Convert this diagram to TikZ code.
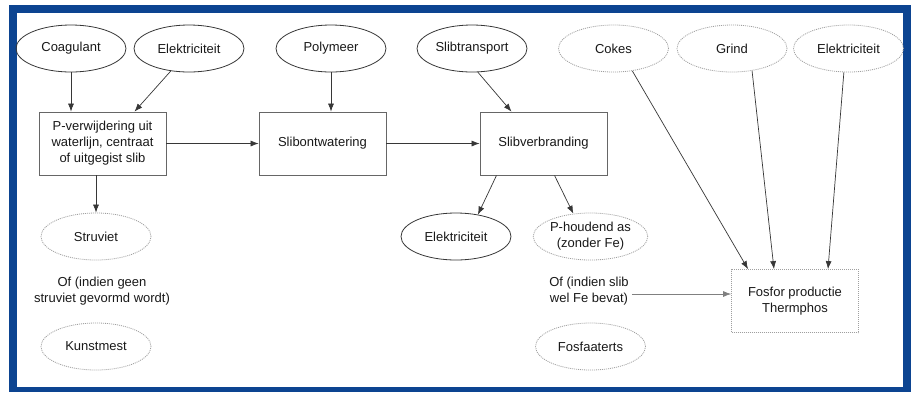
\documentclass[tikz,border=0pt]{standalone}
\usepackage{fontspec}
\setmainfont{Liberation Sans}
\usetikzlibrary{shapes.geometric,arrows.meta}
\definecolor{kaderblauw}{RGB}{12,68,145}
\definecolor{lijngrijs}{RGB}{55,55,55}

\begin{document}
\begin{tikzpicture}[x=1pt,y=-1pt,
  font=\fontsize{13}{16}\selectfont,text=black!90,
  bron/.style={ellipse,draw=lijngrijs,line width=0.8pt,minimum width=110pt,minimum height=47pt,inner sep=0pt,align=center},
  optie/.style={ellipse,draw=gray!75,dash pattern=on 1pt off 1pt,line width=0.8pt,minimum width=110pt,minimum height=47pt,inner sep=0pt,align=center},
  proces/.style={rectangle,draw=gray!80!black,line width=0.8pt,minimum width=127pt,minimum height=63pt,inner sep=0pt,align=center},
  pijl/.style={-{Latex[length=8pt,width=6pt]},draw=lijngrijs,line width=0.7pt},
  tekst/.style={align=center,inner sep=3pt}]
\useasboundingbox (0,0) rectangle (914,392);
% kader
\fill[kaderblauw] (9,5) rectangle (911,392);
\fill[white] (17,13) rectangle (903,387);

% bovenste rij
\node[bron] (coag) at (71,48.5) {Coagulant};
\node[bron] (elek1) at (189,48.5) {Elektriciteit};
\node[bron] (poly) at (331,48.5) {Polymeer};
\node[bron] (slibtr) at (472,48.5) {Slibtransport};
\node[optie] (cokes) at (613.5,48.5) {Cokes};
\node[optie] (grind) at (732,48.5) {Grind};
\node[optie] (elek3) at (848.5,48.5) {Elektriciteit};

% processen
\node[proces] (pverw) at (102.5,143.5) {P-verwijdering uit\\waterlijn, centraat\\of uitgegist slib};
\node[proces] (slibo) at (322.5,143.5) {Slibontwatering};
\node[proces] (slibv) at (543.5,143.5) {Slibverbranding};
\node[proces,draw=gray!75,dash pattern=on 1pt off 1pt] (fosfor) at (795,301) {Fosfor productie\\Thermphos};

% onderste rij
\node[optie] (struv) at (96,236.5) {Struviet};
\node[tekst] (ofgeen) at (102,291.5) {Of (indien geen\\struviet gevormd wordt)};
\node[optie] (kunst) at (96,346.5) {Kunstmest};
\node[bron] (elek2) at (456,236.5) {Elektriciteit};
\node[optie] (phoud) at (590.5,236.5) {P-houdend as\\(zonder Fe)};
\node[tekst] (ofslib) at (589,291.5) {Of (indien slib\\wel Fe bevat)};
\node[optie] (fosfaat) at (590.5,346.5) {Fosfaaterts};

% pijlen
\draw[pijl] (coag.south) -- (coag.south |- pverw.north);
\draw[pijl] (elek1.-129) -- ([xshift=32pt]pverw.north);
\draw[pijl] (poly.south) -- (poly.south |- slibo.north);
\draw[pijl] (slibtr.-76) -- ([xshift=-32pt]slibv.north);
\draw[pijl] (pverw.east) -- (slibo.west);
\draw[pijl] (slibo.east) -- (slibv.west);
\draw[pijl] (struv.north |- pverw.south) -- (struv.north);
\draw[pijl] ([xshift=-47pt]slibv.south) -- (elek2.45);
\draw[pijl] ([xshift=11pt]slibv.south) -- (phoud.127);
\draw[pijl] (cokes.-50) -- ([xshift=-47pt]fosfor.north);
\draw[pijl] (grind.-48) -- ([xshift=-21pt]fosfor.north);
\draw[pijl] (elek3.-101) -- ([xshift=33pt]fosfor.north);
\draw[pijl,draw=gray] ([yshift=-2.5pt]ofslib.east) -- ([yshift=-2.5pt]ofslib.east -| fosfor.west);
\end{tikzpicture}
\end{document}
